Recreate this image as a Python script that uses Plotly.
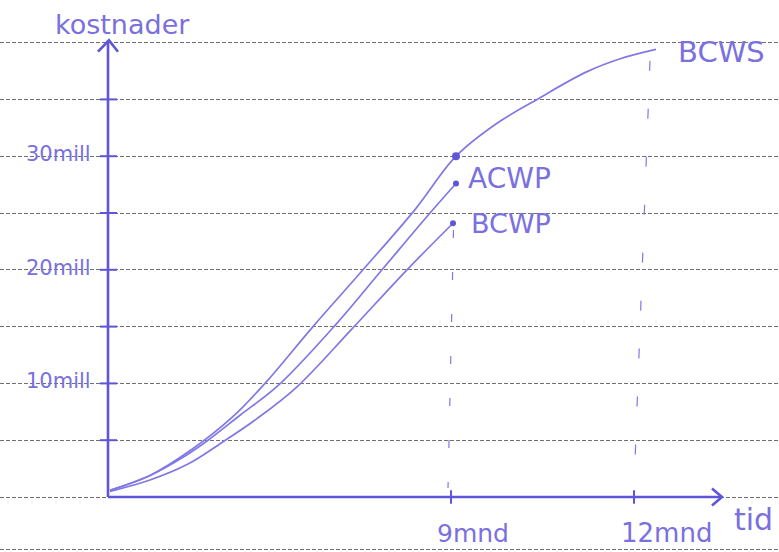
import plotly.graph_objects as go

# ---------------- data (time in sketch units, cost in mill) ----------------
time_bcws = [0.2, 4.2, 8.4, 12.4, 15.7, 20.5, 25.5, 30.7, 34.8, 38.9, 42.9, 47.8, 51.3, 54.8]
cost_bcws = [0.6, 1.9, 4.2, 7.0, 10.0, 15.0, 20.0, 25.3, 30.0, 32.9, 35.0, 37.4, 38.6, 39.4]

time_acwp = [0.2, 4.2, 7.5, 10.0, 13.2, 17.0, 22.8, 27.4, 32.2, 34.8]
cost_acwp = [0.6, 1.9, 3.5, 5.0, 7.2, 9.8, 15.2, 20.0, 25.0, 27.6]

time_bcwp = [0.2, 4.2, 8.0, 11.4, 14.9, 18.9, 24.4, 29.9, 34.5]
cost_bcwp = [0.5, 1.5, 2.9, 4.8, 6.9, 9.7, 14.8, 20.0, 24.1]

y_tick_vals = [10, 20, 30]
y_tick_text = ["10mill", "20mill", "30mill"]
y_minor_ticks = [5, 10, 15, 20, 25, 30, 35]
x_tick_vals = [34.3, 52.6]
x_tick_text = ["9mnd", "12mnd"]
paper_lines = [-4.65, 0, 5, 10, 15, 20, 25, 30, 35, 40]

X_END = 61.4
Y_END = 40.2

# ---------------- styles ----------------
AXIS = "#5f55d9"
PEN = "#8078e4"
TXT = "#7a70e0"
FONT = "DejaVu Sans"

fig = go.Figure()

# curves
for xs, ys in [(time_bcws, cost_bcws), (time_acwp, cost_acwp), (time_bcwp, cost_bcwp)]:
    fig.add_trace(go.Scatter(x=xs, y=ys, mode="lines",
                             line=dict(color=PEN, width=1.7, shape="spline", smoothing=1.0),
                             hoverinfo="skip"))

# end dots
fig.add_trace(go.Scatter(x=[time_bcws[8]], y=[cost_bcws[8]], mode="markers",
                         marker=dict(color=AXIS, size=8), hoverinfo="skip"))
fig.add_trace(go.Scatter(x=[time_acwp[-1], time_bcwp[-1]], y=[cost_acwp[-1], cost_bcwp[-1]],
                         mode="markers", marker=dict(color=AXIS, size=6), hoverinfo="skip"))

# vertical guide dashes at 9 and 12 months
fig.add_trace(go.Scatter(x=[x_tick_vals[0] + 0.25, x_tick_vals[0] - 0.3], y=[23.5, 0.8], mode="lines",
                         line=dict(color=PEN, width=1.2, dash="8px,34px"), hoverinfo="skip"))
fig.add_trace(go.Scatter(x=[x_tick_vals[1] + 1.6, x_tick_vals[1]], y=[38.4, 0.8], mode="lines",
                         line=dict(color=PEN, width=1.2, dash="10px,38px"), hoverinfo="skip"))

# axes
fig.add_trace(go.Scatter(x=[0, 0, None, 0, X_END], y=[0, Y_END, None, 0, 0], mode="lines",
                         line=dict(color=AXIS, width=2.6), hoverinfo="skip"))
# arrowheads
fig.add_trace(go.Scatter(x=[-1.0, 0.1, 1.0, None, X_END - 1.0, X_END, X_END - 1.0],
                         y=[Y_END - 1.0, Y_END, Y_END - 1.0, None, 0.75, 0, -0.75],
                         mode="lines", line=dict(color=AXIS, width=2.6), hoverinfo="skip"))
# y ticks
yt_x, yt_y = [], []
for v in y_minor_ticks:
    yt_x += [-0.8, 0.9, None]
    yt_y += [v, v, None]
fig.add_trace(go.Scatter(x=yt_x, y=yt_y, mode="lines", line=dict(color=AXIS, width=2),
                         hoverinfo="skip"))
# x ticks
xt_x, xt_y = [], []
for v in x_tick_vals:
    xt_x += [v, v, None]
    xt_y += [-0.6, 0.6, None]
fig.add_trace(go.Scatter(x=xt_x, y=xt_y, mode="lines", line=dict(color=AXIS, width=2),
                         hoverinfo="skip"))

ann = []
for v, t in zip(y_tick_vals, y_tick_text):
    ann.append(dict(x=-1.5, y=v + 0.2, text=t, xanchor="right", yanchor="middle",
                    font=dict(size=21, color=TXT, family=FONT)))
sizes_x = [25, 26]
for v, t, s in zip(x_tick_vals, x_tick_text, sizes_x):
    ann.append(dict(x=v + 2.2 + (1.0 if s == 26 else 0), y=-3.2, text=t, xanchor="center",
                    yanchor="middle", font=dict(size=s, color=TXT, family=FONT)))
ann.append(dict(x=62.4, y=-2.0, text="tid", xanchor="left", yanchor="middle",
                font=dict(size=30, color=TXT, family=FONT)))
ann.append(dict(x=1.4, y=41.6, text="kostnader", xanchor="center", yanchor="middle",
                font=dict(size=27, color=TXT, family=FONT)))
ann.append(dict(x=35.8, y=28.0, text="ACWP", xanchor="left", yanchor="middle",
                font=dict(size=28, color=TXT, family=FONT)))
ann.append(dict(x=36.1, y=24.1, text="BCWP", xanchor="left", yanchor="middle",
                font=dict(size=27, color=TXT, family=FONT)))
ann.append(dict(x=56.8, y=39.2, text="BCWS", xanchor="left", yanchor="middle",
                font=dict(size=29, color=TXT, family=FONT)))
for a in ann:
    a.update(xref="x", yref="y", showarrow=False)

fig.update_layout(
    width=779, height=552,
    margin=dict(l=0, r=0, t=0, b=0),
    paper_bgcolor="white", plot_bgcolor="white",
    showlegend=False,
    annotations=ann,
    xaxis=dict(range=[-10.8, 67.1], showgrid=False, zeroline=False, showline=False,
               showticklabels=False, ticks="", fixedrange=True),
    yaxis=dict(range=[-4.84, 43.75], tickmode="array", tickvals=paper_lines,
               showgrid=True, gridcolor="#707070", gridwidth=1, griddash="4px,2px",
               zeroline=False, showline=False, showticklabels=False, ticks="", fixedrange=True),
)

fig.write_html("out.html", config={"displayModeBar": False},
               post_script="document.body.style.margin='0';document.body.style.overflow='hidden';")
